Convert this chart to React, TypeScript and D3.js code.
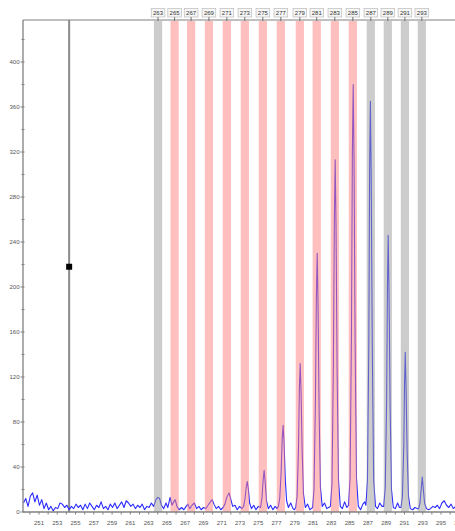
import React from "react";
import * as d3 from "d3";

// Bins (allele name, centre size in bp, colour class)
const binNames = [263, 265, 267, 269, 271, 273, 275, 277, 279, 281, 283, 285, 287, 289, 291, 293];
const binSizes = [264.03, 265.84, 267.65, 269.6, 271.56, 273.53, 275.5, 277.47, 279.55, 281.4, 283.38, 285.35, 287.32, 289.18, 291.05, 292.9];
const binKinds = ["gray", "pink", "pink", "pink", "pink", "pink", "pink", "pink", "pink", "pink", "pink", "pink", "gray", "gray", "gray", "gray"];
const binWidthBp = 0.9;

// Axis tick values
const yTickMajor = [0, 40, 80, 120, 160, 200, 240, 280, 320, 360, 400];
const yTickMinor = [20, 60, 100, 140, 180, 220, 260, 300, 340, 380, 420];
const xTickLabels = [251, 253, 255, 257, 259, 261, 263, 265, 267, 269, 271, 273, 275, 277, 279, 281, 283, 285, 287, 289, 291, 293, 295, 297];

// Marker (size bp, height)
const markerBp = 254.3;
const markerVal = 218;

// Electropherogram trace: [size bp, RFU]
const trace: [number, number][] = [
  [249.3, 8], [249.55, 12], [249.8, 5], [250.05, 14], [250.3, 17], [250.55, 9], [250.8, 15], [251.05, 6],
  [251.3, 11], [251.55, 3], [251.8, 8], [252.05, 2], [252.3, 5], [252.55, 1], [252.8, 4], [253.05, 3],
  [253.3, 8], [253.55, 7], [253.8, 4], [254.05, 6], [254.3, 2], [254.55, 5], [254.8, 3], [255.05, 7],
  [255.3, 4], [255.55, 6], [255.8, 2], [256.05, 7], [256.3, 3], [256.55, 8], [256.8, 5], [257.05, 2],
  [257.3, 6], [257.55, 4], [257.8, 9], [258.05, 3], [258.3, 5], [258.55, 2], [258.8, 7], [259.05, 4],
  [259.3, 8], [259.55, 3], [259.8, 6], [260.05, 9], [260.3, 4], [260.55, 10], [260.8, 8], [261.05, 5],
  [261.3, 7], [261.55, 3], [261.8, 6], [262.05, 4], [262.3, 7], [262.55, 2], [262.8, 5], [263.05, 4],
  [263.3, 8], [263.55, 5], [263.8, 11], [264.0, 13], [264.2, 12], [264.4, 6], [264.65, 3], [264.9, 8],
  [265.1, 4], [265.35, 13], [265.55, 6], [265.75, 9], [265.9, 11], [266.1, 5], [266.35, 2], [266.6, 4],
  [266.85, 2], [267.1, 5], [267.3, 7], [267.5, 3], [267.75, 6], [268.0, 8], [268.25, 3], [268.5, 5],
  [268.75, 2], [269.0, 4], [269.25, 3], [269.5, 6], [269.75, 9], [269.95, 11], [270.15, 7], [270.4, 3],
  [270.65, 5], [270.9, 2], [271.15, 4], [271.35, 7], [271.55, 13], [271.8, 17], [272.0, 11], [272.2, 5],
  [272.45, 6], [272.7, 2], [272.95, 5], [273.2, 3], [273.4, 5], [273.55, 12], [273.68, 22], [273.8, 27],
  [273.92, 20], [274.05, 8], [274.25, 3], [274.5, 6], [274.75, 2], [275.0, 5], [275.25, 4], [275.4, 12],
  [275.53, 28], [275.64, 37], [275.75, 27], [275.9, 10], [276.1, 3], [276.35, 6], [276.6, 2], [276.85, 5],
  [277.05, 3], [277.2, 5], [277.35, 12], [277.5, 35], [277.62, 65], [277.72, 77], [277.82, 62], [277.95, 30],
  [278.1, 10], [278.3, 4], [278.55, 8], [278.8, 3], [278.95, 2], [279.1, 4], [279.25, 14], [279.4, 55],
  [279.5, 110], [279.59, 132], [279.68, 108], [279.8, 55], [279.95, 16], [280.15, 4], [280.4, 7], [280.65, 2],
  [280.8, 3], [280.95, 4], [281.1, 20], [281.25, 95], [281.36, 190], [281.45, 230], [281.54, 185], [281.66, 90],
  [281.8, 22], [282.0, 5], [282.25, 8], [282.5, 3], [282.7, 4], [282.9, 5], [283.07, 25], [283.22, 130],
  [283.33, 260], [283.42, 313], [283.51, 255], [283.63, 125], [283.78, 28], [283.98, 5], [284.2, 3], [284.45, 9],
  [284.7, 4], [284.88, 6], [285.05, 30], [285.2, 160], [285.3, 320], [285.39, 380], [285.48, 315], [285.6, 150],
  [285.75, 30], [285.95, 5], [286.2, 2], [286.45, 7], [286.65, 9], [286.78, 6], [286.95, 28], [287.1, 150],
  [287.19, 305], [287.27, 365], [287.36, 300], [287.48, 145], [287.63, 28], [287.83, 5], [288.05, 3], [288.3, 8],
  [288.55, 5], [288.73, 5], [288.9, 22], [289.05, 100], [289.14, 200], [289.22, 246], [289.31, 195], [289.43, 95],
  [289.58, 20], [289.78, 4], [290.0, 3], [290.25, 8], [290.45, 4], [290.62, 4], [290.78, 14], [290.93, 60],
  [291.01, 115], [291.09, 142], [291.17, 112], [291.29, 55], [291.44, 14], [291.64, 3], [291.9, 2], [292.15, 4],
  [292.4, 3], [292.55, 3], [292.7, 8], [292.83, 20], [292.95, 31], [293.07, 20], [293.2, 8], [293.4, 3],
  [293.65, 2], [293.85, 3], [294.1, 5], [294.35, 4], [294.6, 6], [294.85, 3], [295.1, 8], [295.35, 10],
  [295.6, 6], [295.85, 4], [296.1, 7], [296.35, 3], [296.6, 5],
];

const W = 455;
const H = 531;
const LEFT = 23;
const TOP = 20;
const BOTTOM = 512;

export default function App() {
  const x = d3.scaleLinear().domain([251, 295]).range([39, 441]);
  const y = d3.scaleLinear().domain([0, 400]).range([BOTTOM, 62]);
  const xTicks = d3.range(250, 298, 1);
  const line = d3
    .line<[number, number]>()
    .x((d) => x(d[0]))
    .y((d) => y(d[1]));
  const font = "'Liberation Sans', Arial, sans-serif";
  const pink = "#ff8080";
  const gray = "#9a9a9a";

  return (
    <svg
      width={W}
      height={H}
      style={{ position: "absolute", left: 0, top: 0, background: "#fff" }}
      fontFamily={font}
    >
      <defs>
        <clipPath id="plot">
          <rect x={LEFT} y={TOP} width={W - LEFT} height={BOTTOM - TOP + 1} />
        </clipPath>
      </defs>

      {/* marker vertical line */}
      <line x1={x(markerBp)} x2={x(markerBp)} y1={TOP} y2={BOTTOM} stroke="#8a8a8a" strokeWidth={2} />

      {/* trace */}
      <path d={line(trace) || ""} fill="none" stroke="#2a2aff" strokeWidth={1.1} strokeLinejoin="round" clipPath="url(#plot)" />

      {/* bins */}
      {binSizes.map((s, i) => (
        <rect
          key={"bin" + i}
          x={x(s - binWidthBp / 2)}
          y={TOP + 1}
          width={x(s + binWidthBp / 2) - x(s - binWidthBp / 2)}
          height={BOTTOM - TOP - 1}
          fill={binKinds[i] === "pink" ? pink : gray}
          fillOpacity={0.5}
        />
      ))}

      {/* marker square */}
      <rect x={x(markerBp) - 3} y={y(markerVal) - 3} width={6} height={6} fill="#000" />

      {/* top line */}
      <line x1={LEFT} x2={W} y1={TOP} y2={TOP} stroke="#808080" strokeWidth={1.2} />

      {/* bin labels */}
      {binSizes.map((s, i) => (
        <g key={"lab" + i}>
          <rect x={x(s) - 6.8} y={8.5} width={13.6} height={8.5} fill="#f6f6f6" stroke="#c4c4c4" strokeWidth={0.8} />
          <text x={x(s)} y={15} fontSize={6} textAnchor="middle" fill="#333">
            {binNames[i]}
          </text>
          <line x1={x(s)} x2={x(s)} y1={17} y2={21} stroke="#555" strokeWidth={0.8} />
        </g>
      ))}

      {/* y axis */}
      <line x1={LEFT} x2={LEFT} y1={TOP} y2={BOTTOM} stroke="#808080" strokeWidth={1.3} />
      {yTickMinor.map((v) => (
        <line key={"ym" + v} x1={LEFT - 1.5} x2={LEFT + 1.5} y1={y(v)} y2={y(v)} stroke="#808080" strokeWidth={1} />
      ))}
      {yTickMajor.map((v) => (
        <g key={"yM" + v}>
          <line x1={LEFT - 2.5} x2={LEFT + 1.5} y1={y(v)} y2={y(v)} stroke="#808080" strokeWidth={1} />
          <text x={LEFT - 3.5} y={y(v) + 2} fontSize={6} textAnchor="end" fill="#555">
            {v}
          </text>
        </g>
      ))}

      {/* x axis */}
      <line x1={LEFT} x2={W} y1={BOTTOM} y2={BOTTOM} stroke="#808080" strokeWidth={1.3} />
      {xTicks.map((t) => (
        <line key={"xt" + t} x1={x(t)} x2={x(t)} y1={BOTTOM} y2={BOTTOM + 2.5} stroke="#808080" strokeWidth={1} />
      ))}
      {xTickLabels.map((t) => (
        <text key={"xl" + t} x={x(t)} y={BOTTOM + 13} fontSize={6} textAnchor="middle" fill="#555">
          {t}
        </text>
      ))}
    </svg>
  );
}
